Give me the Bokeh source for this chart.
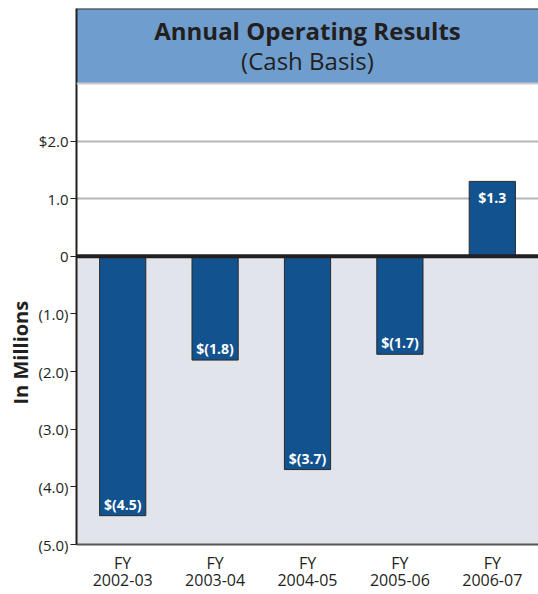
from bokeh.plotting import figure
from bokeh.models import (ColumnDataSource, FixedTicker, BoxAnnotation, Span, Label,
                          FactorRange, Title)
from bokeh.embed import file_html
from bokeh.resources import INLINE
from bokeh.core.properties import value

categories = ["FY\n2002-03", "FY\n2003-04", "FY\n2004-05", "FY\n2005-06", "FY\n2006-07"]
results = [-4.5, -1.8, -3.7, -1.7, 1.3]
bar_labels = ["$(4.5)", "$(1.8)", "$(3.7)", "$(1.7)", "$1.3"]
tick_values = [2, 1, 0, -1, -2, -3, -4, -5]
tick_labels = ["$2.0", "1.0", "0", "(1.0)", "(2.0)", "(3.0)", "(4.0)", "(5.0)"]

FONT = "Open Sans"

src = ColumnDataSource(dict(
    cat=categories,
    val=results,
    lab=bar_labels,
    off=[-2 if v < 0 else 26 for v in results],
))

p = figure(x_range=FactorRange(*categories), y_range=(-5, 4.3),
           width=538, height=594, output_backend="svg", toolbar_location=None,
           min_border_left=76, min_border_right=0, min_border_top=8, min_border_bottom=45)
p.background_fill_color = "white"
p.border_fill_color = "white"
p.outline_line_color = None

# negative region background
p.add_layout(BoxAnnotation(top=0, fill_color="#e1e4ea", fill_alpha=1, line_color=None, level="underlay"))
# title band
p.add_layout(BoxAnnotation(bottom=3.0, fill_color="#6f9dcd", fill_alpha=1, line_color=None, level="underlay"))
p.add_layout(Span(location=3.0, dimension="width", line_color="#c9c9c9", line_width=2))
p.add_layout(Span(location=4.3, dimension="width", line_color="#333333", line_width=2))

# gridlines
p.xgrid.grid_line_color = None
p.ygrid.grid_line_color = "#b4b6ba"
p.ygrid.grid_line_width = 2
p.ygrid.ticker = FixedTicker(ticks=[2, 1, -1, -2, -3, -4])

p.vbar(x="cat", top="val", bottom=0, width=0.5, source=src,
       fill_color="#12528e", line_color="#2a2a2a", line_width=1)

p.add_layout(Span(location=0, dimension="width", line_color="#231f20", line_width=4))

p.text(x="cat", y="val", text="lab", source=src, y_offset="off",
       text_color="white", text_font=value(FONT), text_font_style="bold",
       text_font_size="14px", text_align="center", text_baseline="bottom")

# title
p.add_layout(Label(x=2.5, y=4.3, y_offset=-22, text="Annual Operating Results",
                   text_font=FONT, text_font_style="bold", text_font_size="24px",
                   text_color="#231f20", text_align="center", text_baseline="middle"))
p.add_layout(Label(x=2.5, y=4.3, y_offset=-52, text="(Cash Basis)",
                   text_font=FONT, text_font_size="24px",
                   text_color="#231f20", text_align="center", text_baseline="middle"))

# y axis title
p.add_layout(Title(text="In Millions", align="left", offset=140,
                   text_font=FONT, text_font_style="bold", text_font_size="20px",
                   text_color="#231f20", standoff=4), "left")

# y axis
p.yaxis.ticker = FixedTicker(ticks=tick_values)
p.yaxis.major_label_overrides = {v: t for v, t in zip(tick_values, tick_labels)}
p.yaxis.major_label_text_font = FONT
p.yaxis.major_label_text_font_size = "15px"
p.yaxis.major_label_text_color = "#231f20"
p.yaxis.axis_line_color = "#231f20"
p.yaxis.axis_line_width = 2
p.yaxis.major_tick_line_color = "#231f20"
p.yaxis.major_tick_out = 6
p.yaxis.major_tick_in = 0
p.yaxis.minor_tick_line_color = None
p.yaxis.major_label_standoff = 2

# x axis
p.xaxis.axis_line_color = "#555555"
p.xaxis.axis_line_width = 2
p.xaxis.major_tick_line_color = None
p.xaxis.major_label_text_font = FONT
p.xaxis.major_label_text_font_size = "16px"
p.xaxis.major_label_text_color = "#231f20"
p.xaxis.major_label_standoff = 1
p.xaxis.major_label_text_line_height = 0.8

open("out.html", "w").write(file_html(p, INLINE))
